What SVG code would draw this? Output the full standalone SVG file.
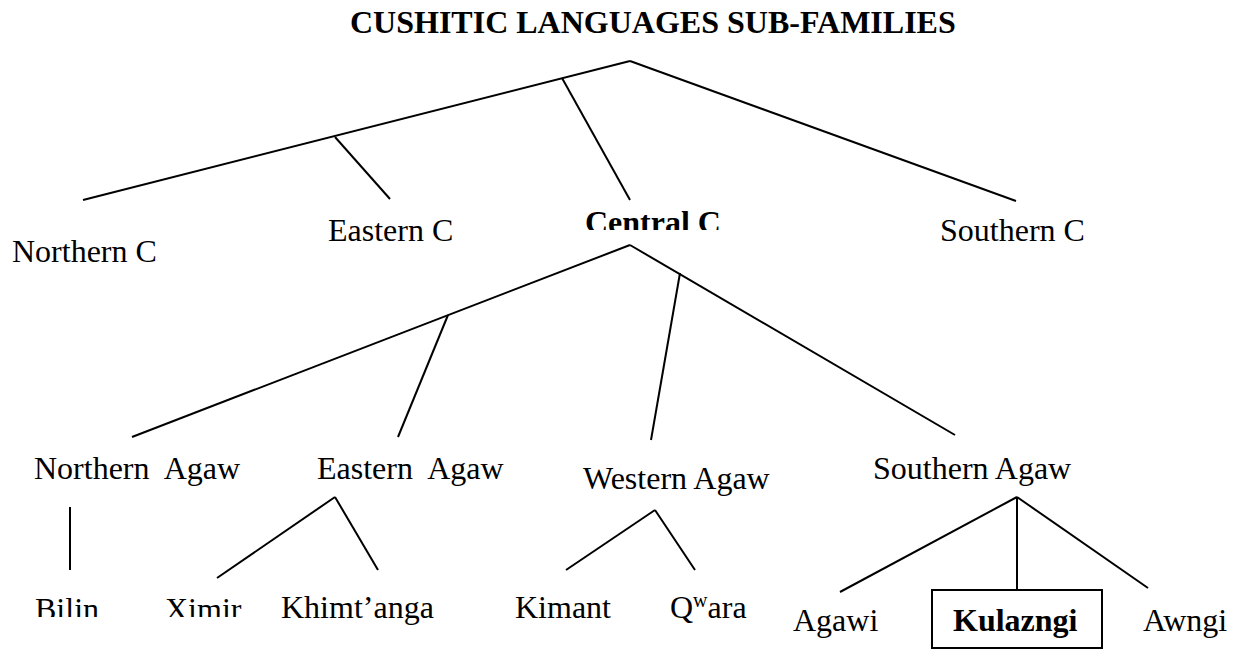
<svg xmlns="http://www.w3.org/2000/svg" width="1241" height="650" viewBox="0 0 1241 650">
  <style>
    .lbl { font-family: "Liberation Serif", "Times New Roman", serif; font-size: 32px; fill: #000; white-space: pre; }
    .b { font-weight: bold; }
    .edge { stroke: #000; stroke-width: 2; fill: none; }
  </style>
  <defs>
    <!-- lower edges of a few labels are cut off -->
    <clipPath id="cutCentral"><rect x="560" y="190" width="200" height="40"/></clipPath>
    <clipPath id="cutBottom"><rect x="0" y="580" width="260" height="37"/></clipPath>
  </defs>
  <rect width="1241" height="650" fill="#fff"/>

  <text class="lbl b" x="350" y="33">CUSHITIC LANGUAGES SUB-FAMILIES</text>

  <g id="connectors">
    <!-- level 1 -->
    <line class="edge" x1="630" y1="61" x2="83" y2="200"/>
    <line class="edge" x1="630" y1="61" x2="1016" y2="201"/>
    <line class="edge" x1="562" y1="78" x2="630" y2="200"/>
    <line class="edge" x1="335" y1="137" x2="390" y2="199"/>
    <!-- level 2 -->
    <line class="edge" x1="630" y1="245" x2="132" y2="437"/>
    <line class="edge" x1="630" y1="245" x2="955" y2="435"/>
    <line class="edge" x1="448" y1="315" x2="398" y2="437"/>
    <line class="edge" x1="680" y1="273" x2="651" y2="440"/>
    <!-- level 3 -->
    <line class="edge" x1="70" y1="507" x2="70" y2="570"/>
    <line class="edge" x1="335" y1="497" x2="217" y2="578"/>
    <line class="edge" x1="335" y1="497" x2="378" y2="570"/>
    <line class="edge" x1="655" y1="510" x2="566" y2="570"/>
    <line class="edge" x1="655" y1="510" x2="695" y2="570"/>
    <line class="edge" x1="1017" y1="497" x2="840" y2="592"/>
    <line class="edge" x1="1017" y1="497" x2="1017" y2="590"/>
    <line class="edge" x1="1017" y1="497" x2="1148" y2="588"/>
  </g>

  <g id="northern-c"><text class="lbl" x="12" y="262">Northern C</text></g>
  <g id="eastern-c"><text class="lbl" x="328" y="241">Eastern C</text></g>
  <g id="central-c" clip-path="url(#cutCentral)"><text class="lbl b" x="585" y="233">Central C</text></g>
  <g id="southern-c"><text class="lbl" x="940" y="241">Southern C</text></g>

  <g id="northern-agaw"><text class="lbl" x="34" y="479">Northern  Agaw</text></g>
  <g id="eastern-agaw"><text class="lbl" x="317" y="479">Eastern  Agaw</text></g>
  <g id="western-agaw"><text class="lbl" x="583" y="489">Western Agaw</text></g>
  <g id="southern-agaw"><text class="lbl" x="873" y="479">Southern Agaw</text></g>

  <g id="bilin" clip-path="url(#cutBottom)"><text class="lbl" x="35" y="620">Bilin</text></g>
  <g id="ximir" clip-path="url(#cutBottom)"><text class="lbl" x="165" y="620">Ximir</text></g>
  <g id="khimtanga"><text class="lbl" x="281" y="618">Khimt’anga</text></g>
  <g id="kimant"><text class="lbl" x="515" y="618">Kimant</text></g>
  <g id="qwara"><text class="lbl" x="670" y="618">Q<tspan font-size="20" dy="-11">w</tspan><tspan dy="11">ara</tspan></text></g>
  <g id="agawi"><text class="lbl" x="793" y="631">Agawi</text></g>
  <g id="kulazngi">
    <rect x="932" y="590" width="170" height="58" fill="none" stroke="#000" stroke-width="2"/>
    <text class="lbl b" x="953" y="631">Kulazngi</text>
  </g>
  <g id="awngi"><text class="lbl" x="1143" y="631">Awngi</text></g>
</svg>
